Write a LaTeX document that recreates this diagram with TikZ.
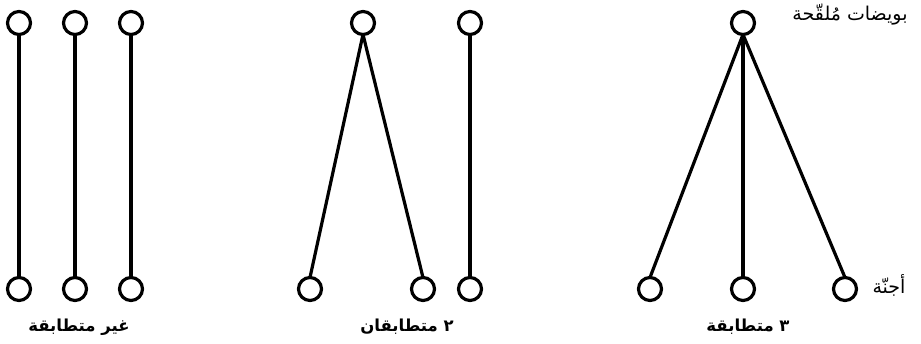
\documentclass[tikz,border=0pt]{standalone}
\usepackage{fontspec}
\newfontfamily\arabicfont[Script=Arabic]{DejaVu Sans}
\TeXXeTstate=1
\begin{document}
\begin{tikzpicture}[x=1pt,y=-1pt,
  ball/.style={circle,draw,line width=3.2pt,minimum size=23pt,inner sep=0pt,outer sep=0pt},
  conn/.style={line width=3.2pt},
  lbl/.style={font=\arabicfont\fontsize{19}{22}\selectfont,inner sep=0pt},
  blbl/.style={font=\arabicfont\bfseries\fontsize{16.5}{19}\selectfont,inner sep=0pt}]
\useasboundingbox (0,0) rectangle (921,344);
% group 1
\node[ball] (t1) at (19,23) {};
\node[ball] (t2) at (75,23) {};
\node[ball] (t3) at (131,23) {};
\node[ball] (b1) at (19,289) {};
\node[ball] (b2) at (75,289) {};
\node[ball] (b3) at (131,289) {};
\draw[conn] (t1.south) -- (b1.north);
\draw[conn] (t2.south) -- (b2.north);
\draw[conn] (t3.south) -- (b3.north);
% group 2
\node[ball] (t4) at (363,23) {};
\node[ball] (t5) at (470,23) {};
\node[ball] (b4) at (310,289) {};
\node[ball] (b5) at (423,289) {};
\node[ball] (b6) at (470,289) {};
\draw[conn] (t4.south) -- (b4.north);
\draw[conn] (t4.south) -- (b5.north);
\draw[conn] (t5.south) -- (b6.north);
% group 3
\node[ball] (t6) at (743,23) {};
\node[ball] (b7) at (650,289) {};
\node[ball] (b8) at (743,289) {};
\node[ball] (b9) at (845,289) {};
\draw[conn] (t6.south) -- (b7.north);
\draw[conn] (t6.south) -- (b8.north);
\draw[conn] (t6.south) -- (b9.north);
% labels
\node[lbl] (top) at (850,15) {\beginR بويضات مُلقّحة\endR};
\node[lbl] (emb) at (889,285) {\beginR أجنّة\endR};
\node[blbl] (l1) at (79,327) {\beginR غير متطابقة\endR};
\node[blbl] (l2) at (407,327) {\beginR ٢ متطابقان\endR};
\node[blbl] (l3) at (748,327) {\beginR ٣ متطابقة\endR};
\end{tikzpicture}
\end{document}
